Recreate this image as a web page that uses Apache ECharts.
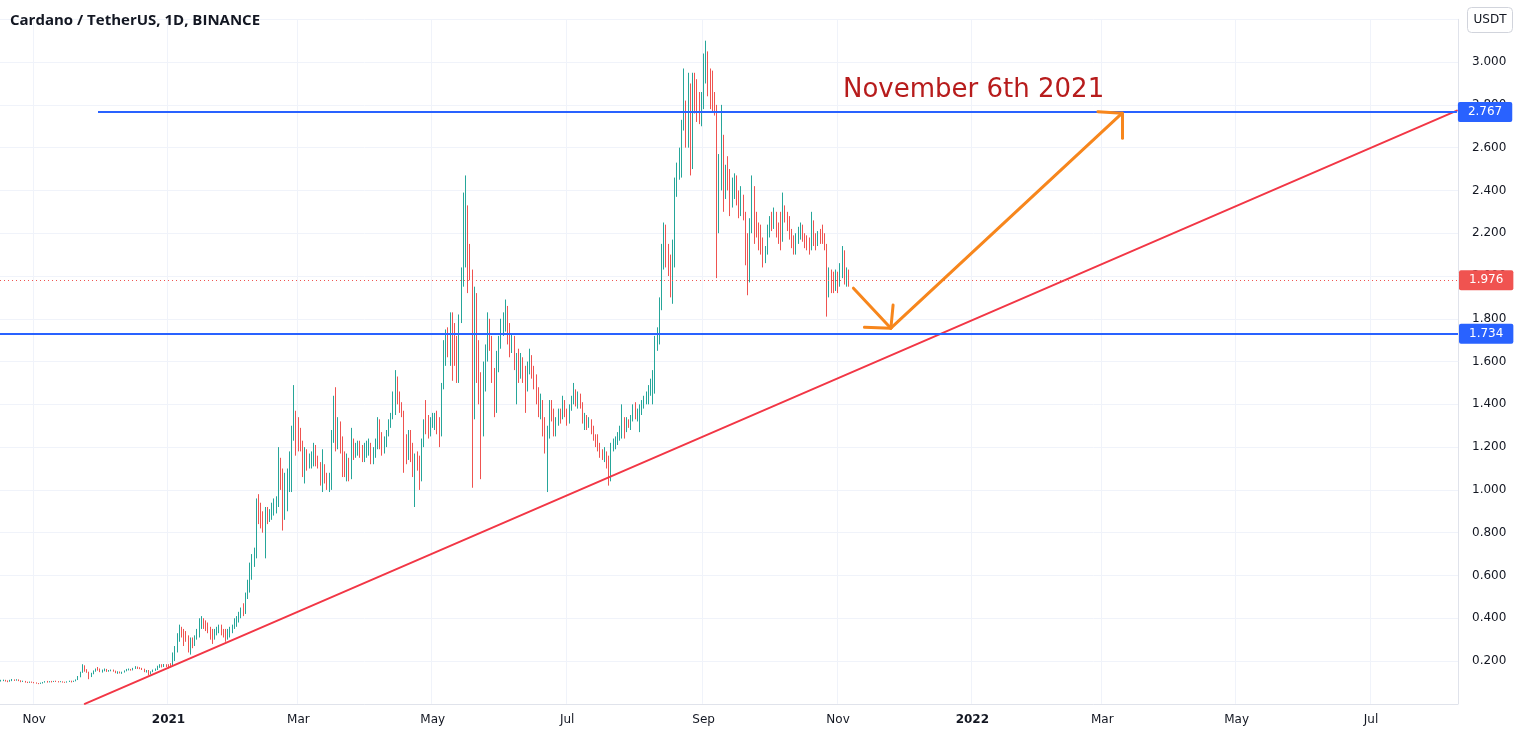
<!DOCTYPE html>
<html><head><meta charset="utf-8">
<script src="https://cdn.jsdelivr.net/npm/echarts@6/dist/echarts.min.js"></script>
<style>html,body{margin:0;padding:0;background:#fff}#c{width:1518px;height:738px}</style>
</head><body><div id="c"></div>
<script>
// ---- categories (one per day) ----
const startDate = '2020-10-17';
const dayCount = 662;
const monthNames = ['Jan','Feb','Mar','Apr','May','Jun','Jul','Aug','Sep','Oct','Nov','Dec'];
const yTicks = [0.2,0.4,0.6,0.8,1.0,1.2,1.4,1.6,1.8,2.0,2.2,2.4,2.6,2.8,3.0];

// ---- daily candles: [close, high, low]; open = previous close ----
const firstOpen = 0.106;
const oct2020 = [[0.108,0.112,0.104],[0.110,0.113,0.106],[0.107,0.112,0.104],[0.105,0.109,0.101],[0.108,0.112,0.103],[0.112,0.116,0.106],[0.110,0.114,0.107],[0.112,0.115,0.108],[0.109,0.114,0.106],[0.104,0.110,0.101],[0.106,0.108,0.102],[0.101,0.107,0.099],[0.100,0.103,0.097],[0.102,0.104,0.098],[0.100,0.104,0.098]];
const nov2020 = [[0.099,0.102,0.096],[0.096,0.100,0.094],[0.095,0.097,0.092],[0.097,0.099,0.093],[0.100,0.102,0.095],[0.104,0.106,0.099],[0.101,0.107,0.099],[0.104,0.106,0.100],[0.103,0.107,0.100],[0.105,0.107,0.102],[0.104,0.108,0.102],[0.103,0.106,0.100],[0.104,0.106,0.101],[0.102,0.105,0.099],[0.100,0.103,0.098],[0.104,0.105,0.099],[0.105,0.108,0.102],[0.103,0.108,0.100],[0.106,0.108,0.102],[0.112,0.114,0.105],[0.125,0.130,0.111],[0.145,0.150,0.124],[0.165,0.185,0.145],[0.158,0.180,0.150],[0.148,0.162,0.145],[0.128,0.150,0.115],[0.140,0.145,0.125],[0.152,0.156,0.138],[0.162,0.165,0.150],[0.158,0.172,0.155]];
const dec2020 = [[0.150,0.165,0.148],[0.156,0.160,0.146],[0.160,0.165,0.152],[0.152,0.163,0.149],[0.155,0.158,0.150],[0.158,0.160,0.152],[0.152,0.160,0.150],[0.146,0.155,0.143],[0.149,0.152,0.140],[0.146,0.151,0.142],[0.148,0.150,0.140],[0.153,0.156,0.146],[0.160,0.163,0.152],[0.161,0.165,0.156],[0.158,0.163,0.155],[0.165,0.168,0.156],[0.170,0.176,0.163],[0.168,0.174,0.163],[0.166,0.171,0.162],[0.162,0.168,0.158],[0.152,0.164,0.148],[0.156,0.158,0.146],[0.140,0.158,0.133],[0.150,0.152,0.137],[0.156,0.160,0.148],[0.162,0.165,0.154],[0.170,0.178,0.158],[0.180,0.185,0.168],[0.178,0.185,0.170],[0.182,0.186,0.172],[0.180,0.185,0.172]];
const jan2021 = [[0.178,0.185,0.165],[0.176,0.190,0.170],[0.205,0.240,0.175],[0.240,0.270,0.200],[0.310,0.330,0.240],[0.340,0.370,0.290],[0.330,0.360,0.310],[0.320,0.350,0.270],[0.310,0.340,0.290],[0.280,0.320,0.240],[0.290,0.310,0.230],[0.280,0.310,0.260],[0.310,0.320,0.270],[0.340,0.350,0.300],[0.370,0.400,0.310],[0.380,0.410,0.350],[0.370,0.400,0.350],[0.360,0.390,0.340],[0.350,0.380,0.330],[0.330,0.360,0.300],[0.310,0.350,0.280],[0.340,0.350,0.300],[0.340,0.360,0.320],[0.350,0.370,0.330],[0.340,0.370,0.320],[0.330,0.350,0.310],[0.320,0.350,0.290],[0.330,0.350,0.300],[0.340,0.360,0.310],[0.360,0.370,0.330],[0.380,0.400,0.350]];
const feb2021 = [[0.40,0.41,0.36],[0.41,0.43,0.38],[0.44,0.45,0.40],[0.43,0.47,0.41],[0.50,0.52,0.42],[0.55,0.58,0.49],[0.62,0.66,0.52],[0.67,0.70,0.58],[0.69,0.73,0.64],[0.93,0.96,0.68],[0.88,0.98,0.84],[0.86,0.94,0.82],[0.83,0.90,0.80],[0.90,0.92,0.68],[0.87,0.92,0.84],[0.89,0.91,0.85],[0.91,0.94,0.86],[0.92,0.96,0.88],[0.93,0.97,0.89],[1.12,1.20,0.92],[1.07,1.15,1.00],[0.95,1.10,0.81],[1.00,1.08,0.86],[1.06,1.10,0.90],[1.15,1.18,0.99],[1.26,1.30,0.99],[1.36,1.49,1.23],[1.30,1.37,1.16]];
const mar2021 = [[1.25,1.34,1.18],[1.20,1.29,1.18],[1.10,1.23,1.06],[1.15,1.20,1.03],[1.12,1.19,1.09],[1.14,1.17,1.10],[1.16,1.18,1.10],[1.20,1.22,1.11],[1.14,1.21,1.11],[1.12,1.16,1.10],[1.05,1.13,1.02],[1.10,1.19,0.99],[1.06,1.12,1.03],[1.02,1.08,1.00],[1.04,1.08,0.99],[1.26,1.28,1.00],[1.40,1.44,1.22],[1.28,1.48,1.18],[1.32,1.34,1.19],[1.20,1.31,1.17],[1.12,1.25,1.06],[1.08,1.18,1.06],[1.12,1.17,1.04],[1.06,1.15,1.04],[1.22,1.29,1.05],[1.17,1.24,1.14],[1.20,1.22,1.15],[1.21,1.23,1.16],[1.17,1.23,1.15],[1.15,1.21,1.13],[1.19,1.22,1.13]];
const apr2021 = [[1.19,1.23,1.15],[1.20,1.24,1.16],[1.14,1.22,1.12],[1.17,1.20,1.12],[1.22,1.24,1.15],[1.32,1.34,1.19],[1.24,1.33,1.19],[1.20,1.27,1.16],[1.23,1.25,1.17],[1.26,1.28,1.20],[1.31,1.33,1.25],[1.34,1.36,1.29],[1.43,1.46,1.33],[1.52,1.56,1.35],[1.45,1.53,1.40],[1.40,1.46,1.36],[1.37,1.41,1.34],[1.18,1.37,1.08],[1.16,1.26,1.12],[1.25,1.28,1.14],[1.20,1.28,1.13],[1.10,1.22,1.06],[1.15,1.17,0.92],[1.12,1.18,1.09],[1.04,1.16,1.00],[1.21,1.24,1.04],[1.31,1.33,1.20],[1.30,1.42,1.26],[1.26,1.35,1.24],[1.32,1.34,1.25]];
const may2021 = [[1.32,1.36,1.29],[1.33,1.36,1.28],[1.30,1.37,1.26],[1.26,1.34,1.20],[1.48,1.50,1.25],[1.66,1.70,1.47],[1.72,1.75,1.58],[1.68,1.76,1.62],[1.80,1.83,1.58],[1.66,1.83,1.51],[1.62,1.78,1.58],[1.52,1.72,1.50],[1.80,1.82,1.50],[1.98,2.04,1.78],[2.05,2.39,1.95],[2.30,2.47,2.04],[2.10,2.33,1.92],[2.02,2.15,1.98],[1.50,2.03,1.01],[1.90,1.95,1.33],[1.62,1.92,1.50],[1.50,1.70,1.40],[1.28,1.55,1.05],[1.56,1.60,1.25],[1.62,1.68,1.46],[1.80,1.83,1.60],[1.70,1.80,1.65],[1.55,1.72,1.50],[1.45,1.57,1.34],[1.60,1.65,1.36],[1.70,1.72,1.55]];
const jun2021 = [[1.76,1.80,1.66],[1.80,1.83,1.72],[1.85,1.89,1.74],[1.74,1.86,1.68],[1.68,1.78,1.62],[1.70,1.73,1.64],[1.60,1.72,1.56],[1.62,1.64,1.40],[1.56,1.66,1.50],[1.60,1.64,1.52],[1.53,1.62,1.50],[1.50,1.58,1.36],[1.57,1.60,1.46],[1.60,1.66,1.54],[1.56,1.63,1.52],[1.50,1.58,1.47],[1.45,1.54,1.40],[1.38,1.48,1.34],[1.40,1.45,1.33],[1.33,1.42,1.25],[1.20,1.34,1.17],[1.26,1.30,0.99],[1.38,1.42,1.24],[1.36,1.42,1.32],[1.28,1.38,1.25],[1.32,1.34,1.25],[1.36,1.38,1.30],[1.34,1.38,1.31],[1.40,1.44,1.33],[1.38,1.42,1.34]];
const jul2021 = [[1.34,1.38,1.30],[1.38,1.40,1.31],[1.42,1.44,1.37],[1.46,1.50,1.40],[1.41,1.47,1.39],[1.44,1.46,1.38],[1.40,1.45,1.38],[1.33,1.41,1.31],[1.33,1.36,1.28],[1.30,1.35,1.28],[1.32,1.34,1.29],[1.28,1.33,1.26],[1.25,1.30,1.23],[1.22,1.26,1.20],[1.20,1.26,1.18],[1.17,1.22,1.15],[1.16,1.19,1.14],[1.18,1.20,1.13],[1.12,1.18,1.10],[1.05,1.16,1.02],[1.20,1.22,1.04],[1.22,1.24,1.18],[1.23,1.25,1.19],[1.26,1.27,1.21],[1.28,1.30,1.23],[1.34,1.40,1.24],[1.31,1.34,1.24],[1.32,1.34,1.27],[1.31,1.33,1.29],[1.33,1.35,1.28],[1.38,1.40,1.32]];
const aug2021 = [[1.34,1.41,1.33],[1.36,1.38,1.32],[1.38,1.40,1.27],[1.40,1.42,1.35],[1.42,1.44,1.38],[1.44,1.46,1.40],[1.47,1.49,1.40],[1.49,1.52,1.44],[1.52,1.56,1.40],[1.68,1.72,1.45],[1.73,1.76,1.65],[1.88,1.90,1.68],[2.12,2.15,1.84],[2.20,2.25,2.03],[2.10,2.24,2.04],[2.04,2.15,2.00],[1.94,2.10,1.90],[2.12,2.17,1.87],[2.40,2.46,2.04],[2.50,2.53,2.37],[2.55,2.60,2.45],[2.70,2.73,2.46],[2.80,2.97,2.68],[2.64,2.82,2.60],[2.90,2.95,2.60],[2.52,2.90,2.47],[2.90,2.95,2.50],[2.80,2.95,2.76],[2.78,2.92,2.72],[2.74,2.86,2.71],[2.82,2.86,2.70]];
const sep2021 = [[2.92,3.04,2.78],[3.05,3.10,2.90],[2.88,3.03,2.84],[2.82,2.97,2.78],[2.80,2.96,2.77],[2.78,2.86,2.75],[2.38,2.80,1.99],[2.44,2.57,2.20],[2.60,2.80,2.40],[2.40,2.66,2.30],[2.48,2.52,2.36],[2.45,2.56,2.40],[2.35,2.50,2.28],[2.42,2.46,2.32],[2.45,2.48,2.36],[2.36,2.47,2.33],[2.30,2.40,2.27],[2.38,2.42,2.28],[2.28,2.38,2.26],[2.10,2.30,2.05],[2.02,2.20,1.91],[2.22,2.27,1.97],[2.40,2.47,2.20],[2.25,2.42,2.15],[2.22,2.30,2.18],[2.20,2.25,2.12],[2.15,2.24,2.10],[2.08,2.18,2.04],[2.12,2.14,2.06],[2.20,2.24,2.10]];
const oct2021 = [[2.26,2.28,2.18],[2.24,2.30,2.21],[2.26,2.32,2.22],[2.22,2.30,2.18],[2.20,2.25,2.15],[2.17,2.30,2.12],[2.32,2.39,2.16],[2.28,2.33,2.25],[2.26,2.30,2.21],[2.20,2.28,2.17],[2.17,2.22,2.13],[2.13,2.19,2.10],[2.15,2.20,2.10],[2.20,2.23,2.16],[2.22,2.25,2.17],[2.19,2.24,2.16],[2.17,2.20,2.13],[2.15,2.19,2.12],[2.14,2.18,2.10],[2.22,2.30,2.12],[2.17,2.26,2.14],[2.16,2.20,2.12],[2.19,2.21,2.14],[2.18,2.22,2.15],[2.17,2.24,2.15],[2.14,2.20,2.12],[1.95,2.15,1.81],[2.00,2.04,1.90],[1.97,2.03,1.92],[1.95,2.02,1.92],[1.98,2.03,1.93]];
const nov2021 = [[1.95,2.02,1.92],[2.02,2.06,1.95],[2.10,2.14,1.99],[2.00,2.12,1.96],[2.02,2.04,1.95],[1.976,2.03,1.95]];

// ---- drawn annotations (date, price) ----
const levelTop = 2.767, levelTopFrom = '2020-11-30', levelTopTo = '2022-08-09';
const levelBottom = 1.734;
const lastPrice = 1.976;
const trendLine = [['2020-11-24', 0], ['2022-08-09', 2.773]];
const arrowDown = [['2021-11-08', 1.943], ['2021-11-25', 1.756]];
const arrowDownHead = [['2021-11-13', 1.760], ['2021-11-25', 1.756], ['2021-11-26', 1.864]];
const arrowUp = [['2021-11-25', 1.756], ['2022-03-10', 2.761]];
const arrowUpHead = [['2022-02-27', 2.768], ['2022-03-10', 2.761], ['2022-03-10', 2.644]];
const noteText = 'November 6th 2021';

// ---- build ----
const dates = [];
const d0 = Date.parse(startDate + 'T00:00:00Z');
for (let k = 0; k < dayCount; k++) dates.push(new Date(d0 + k * 86400000).toISOString().slice(0, 10));
const months = [oct2020, nov2020, dec2020, jan2021, feb2021, mar2021, apr2021, may2021, jun2021, jul2021, aug2021, sep2021, oct2021, nov2021];
const candles = [];
let prev = firstOpen;
months.forEach(m => m.forEach(([c, h, l]) => {
  candles.push([prev, c, Math.min(l, prev, c), Math.max(h, prev, c)]);
  prev = c;
}));

const isLabelDay = v => +v.slice(8, 10) === 1 && (+v.slice(5, 7)) % 2 === 1;
const FONT = 'DejaVu Sans';
const UP = '#26a69a', DOWN = '#ef5350', BLUE = '#2962ff', ORANGE = '#f7861c', TREND = '#f23645';

function seg(points, color, width) {
  const data = [];
  for (let k = 0; k < points.length - 1; k++) data.push([{ coord: points[k] }, { coord: points[k + 1] }]);
  return {
    type: 'line', data: [], z: 5, silent: true,
    markLine: { silent: true, symbol: ['none', 'none'], animation: false,
      lineStyle: { color: color, width: width, type: 'solid', cap: 'round', join: 'round' },
      label: { show: false }, emphasis: { disabled: true }, data: data }
  };
}
function priceLabel(text, bg) {
  return { show: true, position: 'end', formatter: text, distance: 1, color: '#fff', backgroundColor: bg,
    padding: [4, 10, 4, 10], lineHeight: 12, fontSize: 12, fontFamily: FONT, borderRadius: 2 };
}

const chart = echarts.init(document.getElementById('c'), null, { renderer: 'canvas' });
chart.setOption({
  animation: false,
  backgroundColor: '#ffffff',
  title: { text: 'Cardano / TetherUS, 1D, BINANCE', left: 10, top: 13, padding: 0,
    textStyle: { fontFamily: 'Open Sans', fontWeight: 'bold', fontSize: 15, color: '#131722' } },
  grid: { left: 0, right: 60, top: 19.3, bottom: 34.2, containLabel: false },
  xAxis: {
    type: 'category', data: dates, boundaryGap: true,
    axisLine: { show: true, lineStyle: { color: '#e0e3eb' } },
    axisTick: { show: false },
    axisLabel: { interval: (i, v) => isLabelDay(v), margin: 10, color: '#131722', fontSize: 12, fontFamily: FONT,
      formatter: v => { const m = +v.slice(5, 7); return m === 1 ? '{b|' + v.slice(0, 4) + '}' : monthNames[m - 1]; },
      rich: { b: { fontWeight: 'bold', fontSize: 12, fontFamily: FONT, color: '#131722' } } },
    splitLine: { show: true, interval: (i, v) => isLabelDay(v), lineStyle: { color: '#f0f3fa' } }
  },
  yAxis: {
    type: 'value', position: 'right', min: 0, max: 3.2, interval: 0.2, scale: false,
    axisLine: { show: true, lineStyle: { color: '#e0e3eb' } },
    axisTick: { show: false },
    axisLabel: { margin: 14, color: '#131722', fontSize: 12, fontFamily: FONT,
      formatter: v => yTicks.some(t => Math.abs(t - v) < 1e-6) ? v.toFixed(3) : '' },
    splitLine: { show: true, lineStyle: { color: '#f0f3fa' } }
  },
  series: [
    { type: 'candlestick', data: candles, barWidth: 1.1, z: 2,
      itemStyle: { color: UP, color0: DOWN, borderColor: UP, borderColor0: DOWN, borderWidth: 1 } },
    seg(trendLine, TREND, 2),
    { type: 'line', data: [], z: 4, silent: true,
      markLine: { silent: true, symbol: ['none', 'none'], animation: false, emphasis: { disabled: true },
        data: [
          { yAxis: lastPrice, lineStyle: { color: DOWN, width: 1, type: [1, 3] }, label: priceLabel(lastPrice.toFixed(3), '#f05350') },
          { yAxis: levelBottom, lineStyle: { color: BLUE, width: 2, type: 'solid' }, label: priceLabel(levelBottom.toFixed(3), BLUE) }
        ] } },
    { type: 'line', data: [], z: 4, silent: true,
      markLine: { silent: true, symbol: ['none', 'none'], animation: false, emphasis: { disabled: true },
        lineStyle: { color: BLUE, width: 2, type: 'solid' },
        label: priceLabel(levelTop.toFixed(3), BLUE),
        data: [[{ coord: [levelTopFrom, levelTop] }, { coord: [levelTopTo, levelTop] }]] } },
    seg(arrowDown, ORANGE, 3),
    seg(arrowDownHead, ORANGE, 3),
    seg(arrowUp, ORANGE, 3),
    seg(arrowUpHead, ORANGE, 3)
  ],
  graphic: [
    { type: 'rect', shape: { x: 1467.5, y: 7.5, width: 45, height: 25, r: 4 }, style: { fill: '#fff', stroke: '#d1d4dc', lineWidth: 1 }, z: 10 },
    { type: 'text', x: 1490, y: 20, style: { text: 'USDT', textAlign: 'center', textVerticalAlign: 'middle', font: '12px "DejaVu Sans"', fill: '#131722' }, z: 11 },
    { type: 'text', x: 843, y: 90, style: { text: noteText, textAlign: 'left', textVerticalAlign: 'middle', font: '26px "DejaVu Sans"', fill: '#b71c1c' }, z: 11 }
  ]
});
</script></body></html>
